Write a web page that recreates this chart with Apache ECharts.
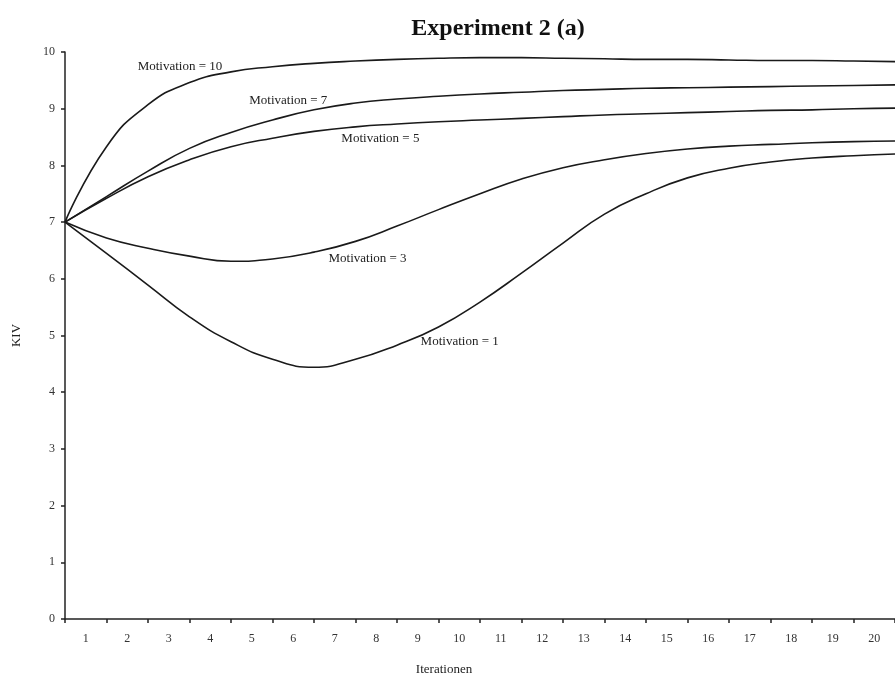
<!DOCTYPE html>
<html>
<head>
<meta charset="utf-8">
<script src="https://cdn.jsdelivr.net/npm/echarts@6/dist/echarts.min.js"></script>
<style>html,body{margin:0;padding:0;background:#fff}#c{width:895px;height:684px}</style>
</head>
<body>
<div id="c"></div>
<script>
var categories = ['1','2','3','4','5','6','7','8','9','10','11','12','13','14','15','16','17','18','19','20'];
var iterationPoints = [0,1,2,3,4,5,6,7,8,9,10,11,12,13,14,15,16,17,18,19,20];
var mot10 = [7, 8.33, 9.07, 9.46, 9.65, 9.74, 9.8, 9.84, 9.87, 9.89, 9.9, 9.9, 9.89, 9.88, 9.87, 9.87, 9.86, 9.85, 9.85, 9.84, 9.83];
var mot7  = [7, 7.45, 7.9, 8.3, 8.58, 8.8, 8.98, 9.1, 9.17, 9.22, 9.26, 9.29, 9.32, 9.34, 9.36, 9.37, 9.38, 9.39, 9.4, 9.41, 9.42];
var mot5  = [7, 7.42, 7.8, 8.1, 8.33, 8.48, 8.6, 8.68, 8.73, 8.77, 8.8, 8.83, 8.86, 8.89, 8.91, 8.93, 8.95, 8.97, 8.98, 9.0, 9.01];
var mot3  = [7, 6.72, 6.54, 6.4, 6.31, 6.35, 6.47, 6.66, 6.93, 7.22, 7.5, 7.76, 7.96, 8.1, 8.21, 8.29, 8.34, 8.37, 8.4, 8.42, 8.43];
var mot1  = [7, 6.45, 5.89, 5.33, 4.89, 4.58, 4.44, 4.58, 4.83, 5.15, 5.59, 6.1, 6.63, 7.14, 7.5, 7.78, 7.95, 8.06, 8.13, 8.17, 8.2];
var seriesNames = ['Motivation = 10','Motivation = 7','Motivation = 5','Motivation = 3','Motivation = 1'];
var labelCoords = [[2.77, 9.74],[5.38, 9.15],[7.6, 8.47],[7.29, 6.35],[9.51, 4.89]];
var yTicks = [0,1,2,3,4,5,6,7,8,9,10];

var serif = '"Liberation Serif", "DejaVu Serif", serif';
var allData = [mot10, mot7, mot5, mot3, mot1];
var chart = echarts.init(document.getElementById('c'), null, {renderer: 'canvas'});
var series = allData.map(function (arr, i) {
  return {
    name: seriesNames[i],
    type: 'line',
    xAxisIndex: 1,
    smooth: 0.5,
    symbol: 'none',
    clip: false,
    lineStyle: {color: '#1a1a1a', width: 1.6},
    data: arr.map(function (v, j) { return [iterationPoints[j], v]; }),
    markPoint: {
      symbol: 'rect', symbolSize: 1,
      itemStyle: {color: 'rgba(0,0,0,0)'},
      label: {show: true, position: 'inside', formatter: seriesNames[i], fontFamily: serif, fontSize: 13, color: '#222'},
      data: [{coord: labelCoords[i]}]
    }
  };
});
chart.setOption({
  animation: false,
  backgroundColor: '#fff',
  title: {text: 'Experiment 2 (a)', left: 493, top: 12, textAlign: 'center',
    textStyle: {fontFamily: serif, fontSize: 24, fontWeight: 'bold', color: '#111'}},
  grid: {left: 65, top: 52, bottom: 65, width: 837},
  xAxis: [{
    type: 'category', data: categories, boundaryGap: true,
    name: 'Iterationen', nameLocation: 'middle', nameGap: 44,
    nameTextStyle: {fontFamily: serif, fontSize: 13, color: '#222', padding: [0, 72, 0, 0]},
    axisLine: {lineStyle: {color: '#222', width: 1.5}},
    axisTick: {show: true, interval: 0, length: 4, lineStyle: {color: '#222', width: 1.5}},
    axisLabel: {interval: 0, margin: 14, fontFamily: serif, fontSize: 12, color: '#333'},
    splitLine: {show: false}
  }, {
    type: 'value', min: 0, max: 20, show: false, position: 'bottom'
  }],
  yAxis: {
    type: 'value', min: yTicks[0], max: yTicks[yTicks.length - 1], interval: 1,
    name: 'KIV', nameLocation: 'middle', nameGap: 42, nameRotate: 90,
    nameTextStyle: {fontFamily: serif, fontSize: 13, color: '#222'},
    axisLine: {show: true, lineStyle: {color: '#222', width: 1.5}},
    axisTick: {show: true, length: 4, lineStyle: {color: '#222', width: 1.5}},
    axisLabel: {margin: 10, fontFamily: serif, fontSize: 12, color: '#333'},
    splitLine: {show: false}
  },
  series: series
});
</script>
</body>
</html>
